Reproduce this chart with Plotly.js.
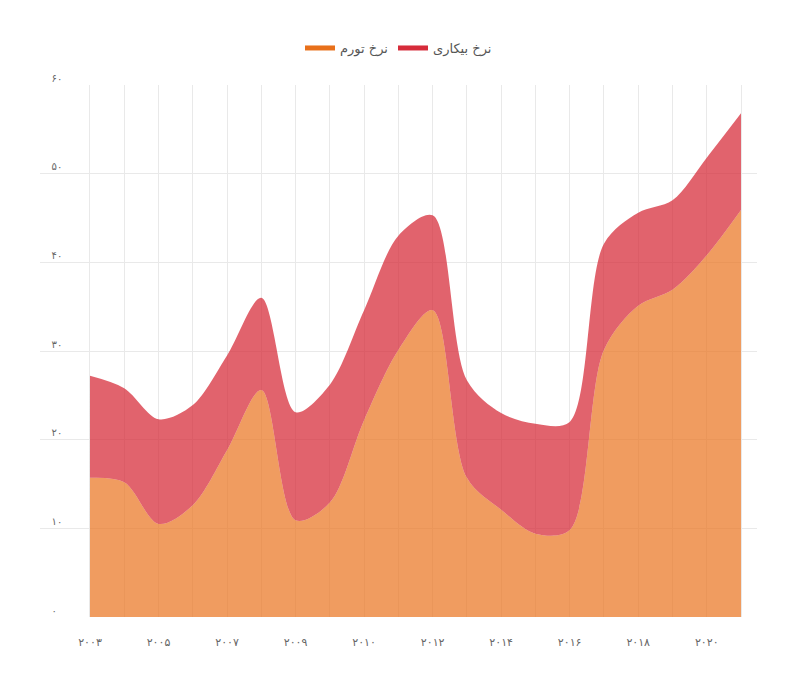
<!DOCTYPE html>
<html>
<head>
<meta charset="utf-8">
<script src="https://cdn.plot.ly/plotly-3.0.1.min.js"></script>
<style>
html,body{margin:0;padding:0;background:#fff;}
#chart{width:789px;height:675px;}
</style>
</head>
<body>
<div id="chart"></div>
<script>
// x positions (one per period) and their labels
var xIdx = [0,1,2,3,4,5,6,7,8,9,10,11,12,13,14,15,16,17,18,19];
var xLabels = ['۲۰۰۳','','۲۰۰۵','','۲۰۰۷','','۲۰۰۹','','۲۰۱۰','','۲۰۱۲','','۲۰۱۴','','۲۰۱۶','','۲۰۱۸','','۲۰۲۰',''];

// series
var inflation   = [15.7,15.2,10.5,12.6,18.8,25.6,10.9,12.9,22.2,30.1,34.6,15.7,12.1,9.4,9.8,30.1,35.1,36.9,40.8,45.9];
var unemployment= [11.5,10.6,11.8,11.3,10.7,10.4,12.2,13.3,12.4,12.9,10.7,11.0,10.9,12.4,12.2,12.0,10.5,10.1,11.0,10.9];

var yTickVals = [0,10,20,30,40,50,60];
var yTickLabels = ['۰','۱۰','۲۰','۳۰','۴۰','۵۰','۶۰'];

var nameInflation = 'نرخ تورم';
var nameUnemployment = 'نرخ بیکاری';

var orange = '#e8701a';
var red = '#d62c3a';

var traces = [
  {x: xIdx, y: inflation, type:'scatter', mode:'lines', stackgroup:'one',
   line:{width:0, shape:'spline', smoothing:0.9, color:orange},
   fillcolor:'rgba(234,118,34,0.72)', showlegend:false, hoverinfo:'skip'},
  {x: xIdx, y: unemployment, type:'scatter', mode:'lines', stackgroup:'one',
   line:{width:0, shape:'spline', smoothing:0.9, color:red},
   fillcolor:'rgba(214,44,58,0.74)', showlegend:false, hoverinfo:'skip'},
  {x:[null], y:[null], type:'scatter', mode:'lines', name:nameInflation,
   line:{color:orange, width:5}, showlegend:true},
  {x:[null], y:[null], type:'scatter', mode:'lines', name:nameUnemployment,
   line:{color:red, width:5}, showlegend:true},
  {x:[null], y:[null], type:'scatter', mode:'lines', yaxis:'y2', showlegend:false, hoverinfo:'skip'}
];

var layout = {
  width:789, height:675,
  margin:{l:40, r:32, t:85, b:58},
  paper_bgcolor:'#fff', plot_bgcolor:'#fff',
  font:{family:'"DejaVu Sans", sans-serif', color:'#666', size:11},
  showlegend:true,
  legend:{orientation:'h', traceorder:'normal', x:0.5, xanchor:'center', y:1.0695, yanchor:'middle',
          font:{size:13, color:'#555'}},
  xaxis:{range:[-1.459,19.467], tickmode:'array', tickvals:xIdx, ticktext:xLabels,
         showgrid:true, gridcolor:'#e9e9e9', gridwidth:1, zeroline:false, showline:false,
         ticks:'', ticklabelstandoff:17, tickfont:{size:11, color:'#666'}},
  yaxis:{range:[0,60], tickmode:'array', tickvals:yTickVals, ticktext:yTickLabels,
         showgrid:true, gridcolor:'#e9e9e9', gridwidth:1, zeroline:false, showline:false,
         ticks:'', showticklabels:false},
  yaxis2:{range:[0,60], overlaying:'y', side:'right', anchor:'free', position:0.012,
          tickmode:'array', tickvals:yTickVals, ticktext:yTickLabels,
          showgrid:false, zeroline:false, showline:false, ticks:'',
          ticklabelposition:'outside top', ticklabelstandoff:2,
          tickfont:{size:10, color:'#666'}},
  hovermode:false
};

Plotly.newPlot('chart', traces, layout, {displayModeBar:false, staticPlot:true});
</script>
</body>
</html>
